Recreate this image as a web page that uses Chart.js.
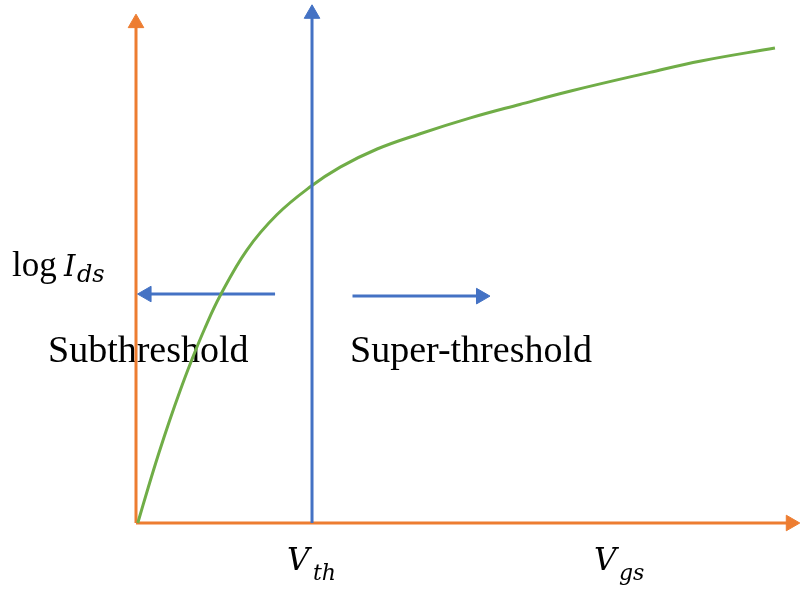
<!DOCTYPE html>
<html>
<head>
<meta charset="utf-8">
<script src="https://cdn.jsdelivr.net/npm/chart.js@4.4.0/dist/chart.umd.min.js"></script>
<style>
  html, body { margin: 0; padding: 0; background: #fff; }
  canvas { display: block; }
</style>
</head>
<body>
<canvas id="mos-chart" width="801" height="590"></canvas>
<script>
// Ids-Vgs sketch: x = Vgs (Vth = 1), y = log Ids (arbitrary units)
const curveVgs = [0.01, 0.07, 0.13, 0.19, 0.25, 0.31, 0.39, 0.48, 0.63, 0.80, 0.99, 1.16, 1.37, 1.61, 1.90, 2.18, 2.47, 2.92, 3.21, 3.63];
const curveLogIds = [0, 0.69, 1.35, 1.97, 2.55, 3.09, 3.75, 4.40, 5.27, 5.95, 6.49, 6.87, 7.22, 7.51, 7.82, 8.08, 8.34, 8.70, 8.92, 9.17];

const vth = 1;
const vgsMax = 3.72;      // end of the Vgs axis arrow
const logIdsMax = 9.65;   // end of the log Ids axis arrow
const vthLineTop = 9.83;  // end of the Vth marker arrow
const leftArrowX = [0.79, 0.06];
const leftArrowY = 4.42;
const rightArrowX = [1.23, 1.96];
const rightArrowY = 4.38;

const regionLabels = ["Subthreshold", "Super-threshold"];
const yTitle = ["log", "I", "ds"];
const vthTitle = ["V", "th"];
const vgsTitle = ["V", "gs"];

const orange = "#ED7D31";
const blue = "#4472C4";
const green = "#70AD47";

function arrow(xs, ys, color, rotation) {
  return {
    data: xs.map((v, i) => ({ x: v, y: ys[i] })),
    showLine: true,
    borderColor: color,
    backgroundColor: color,
    borderWidth: 3,
    pointStyle: "triangle",
    pointRadius: [0, 9],
    pointBorderWidth: 1,
    pointRotation: [0, rotation],
    pointBackgroundColor: color,
    pointBorderColor: color,
    clip: false,
  };
}

const textPlugin = {
  id: "sketchLabels",
  beforeDatasetsDraw(chart) {
    const { ctx, scales } = chart;
    const x0 = scales.x.getPixelForValue(0);
    const xv = scales.x.getPixelForValue(vth);
    const y0 = scales.y.getPixelForValue(0);
    ctx.save();
    ctx.fillStyle = "#000";
    ctx.textBaseline = "alphabetic";
    ctx.textAlign = "left";

    ctx.font = "38px 'Liberation Serif'";
    ctx.fillText(regionLabels[0], x0 - 88, y0 - 161);
    ctx.fillText(regionLabels[1], xv + 38, y0 - 161);

    ctx.font = "35px 'Liberation Serif'";
    ctx.fillText(yTitle[0], x0 - 124, y0 - 247);
    ctx.font = "italic 29px 'DejaVu Serif'";
    ctx.fillText(yTitle[1], x0 - 72, y0 - 247);
    ctx.font = "italic 24px 'DejaVu Serif'";
    ctx.fillText(yTitle[2], x0 - 59, y0 - 241);

    ctx.font = "italic 31px 'DejaVu Serif'";
    ctx.fillText(vthTitle[0], xv - 25, y0 + 47);
    ctx.fillText(vgsTitle[0], x0 + 458, y0 + 47);
    ctx.font = "italic 22px 'DejaVu Serif'";
    ctx.fillText(vthTitle[1], xv + 1, y0 + 57);
    ctx.fillText(vgsTitle[1], x0 + 483, y0 + 57);
    ctx.restore();
  },
};

new Chart(document.getElementById("mos-chart").getContext("2d"), {
  type: "scatter",
  plugins: [textPlugin],
  data: {
    datasets: [
      arrow([vth, vth], [0, vthLineTop], blue, 0),
      {
        data: curveVgs.map((v, i) => ({ x: v, y: curveLogIds[i] })),
        showLine: true,
        borderColor: green,
        borderWidth: 3,
        pointRadius: 0,
        tension: 0.4,
        clip: false,
      },
      arrow(leftArrowX, [leftArrowY, leftArrowY], blue, 270),
      arrow(rightArrowX, [rightArrowY, rightArrowY], blue, 90),
      arrow([0, 0], [0, logIdsMax], orange, 0),
      arrow([0, vgsMax], [0, 0], orange, 90),
    ],
  },
  options: {
    responsive: false,
    animation: false,
    layout: {
      autoPadding: false,
      padding: { left: 136, right: 0, top: 5, bottom: 67 },
    },
    plugins: {
      legend: { display: false },
      tooltip: { enabled: false },
    },
    scales: {
      x: { type: "linear", min: 0, max: 3.778, display: false },
      y: { type: "linear", min: 0, max: 10, display: false },
    },
  },
});
</script>
</body>
</html>
